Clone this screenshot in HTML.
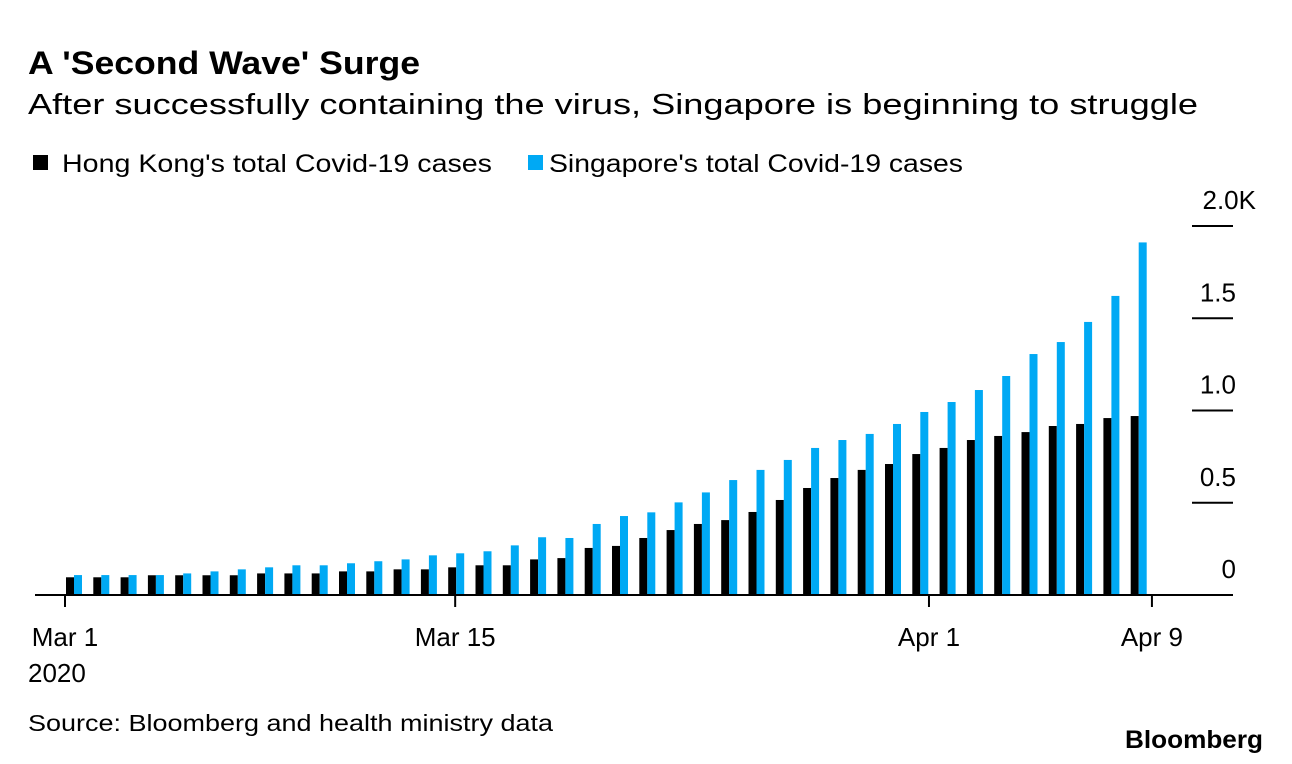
<!DOCTYPE html>
<html><head><meta charset="utf-8"><style>
html,body{margin:0;padding:0;background:#fff;}
svg{display:block;font-family:"Liberation Sans",Arial,sans-serif;}
</style></head><body>
<svg id="chart" width="1292" height="764" viewBox="0 0 1292 764" xmlns="http://www.w3.org/2000/svg">
<rect width="1292" height="764" fill="#fff"/>
<text x="28" y="74" font-size="32" font-weight="bold" textLength="392" lengthAdjust="spacingAndGlyphs">A 'Second Wave' Surge</text>
<text x="28" y="114" font-size="29" textLength="1170" lengthAdjust="spacingAndGlyphs">After successfully containing the virus, Singapore is beginning to struggle</text>
<g>
<rect x="33" y="155" width="15" height="15" fill="#000"/>
<text x="62" y="172" font-size="25" textLength="430" lengthAdjust="spacingAndGlyphs">Hong Kong's total Covid-19 cases</text>
<rect x="528" y="155" width="15" height="15" fill="#00a9f4"/>
<text x="549" y="172" font-size="25" textLength="414" lengthAdjust="spacingAndGlyphs">Singapore's total Covid-19 cases</text>
</g>
<g id="bars"></g>
<g id="yaxis"></g>
<g id="xaxis"></g>
<text x="28" y="731" font-size="23" textLength="525" lengthAdjust="spacingAndGlyphs">Source: Bloomberg and health ministry data</text>
<text x="1263" y="748" font-size="25" font-weight="bold" text-anchor="end" textLength="138" lengthAdjust="spacingAndGlyphs">Bloomberg</text>
</svg>
<script>
const hongKong = [96,96,96,107,107,107,107,117,117,117,128,128,139,139,150,161,161,193,200,255,266,309,352,385,406,450,515,580,634,678,710,764,797,840,862,883,916,927,959,970];
const singapore = [108,108,108,108,117,128,139,150,161,161,172,183,193,215,226,237,269,313,309,385,428,448,502,556,623,678,732,797,840,873,927,992,1046,1111,1187,1306,1371,1480,1621,1911];
const yTicks = [0,500,1000,1500,2000];
const yTickLabels = ["0","0.5","1.0","1.5","2.0K"];
const xTickDays = [0,14,31,39];
const xTickLabels = ["Mar 1","Mar 15","Apr 1","Apr 9"];

const NS = "http://www.w3.org/2000/svg";
const base = 595, pxPer = 184.5/1000;
function y(v){ return base - v*pxPer; }
function xBar(i){ return 66 + i*27.3; }
function xTick(d){ return 65 + d*27.87; }
function mk(tag, attrs, parent){ const e=document.createElementNS(NS,tag); for(const k in attrs) e.setAttribute(k,attrs[k]); parent.appendChild(e); return e; }

const bars = document.getElementById('bars');
hongKong.forEach((v,i)=>{
  const r = mk('rect',{x:xBar(i),y:y(v),width:8,height:base-y(v),fill:'#000'},bars);
  
  
});
singapore.forEach((v,i)=>{
  const r = mk('rect',{x:xBar(i)+8,y:y(v),width:8,height:base-y(v),fill:'#00a9f4'},bars);
  
  
});

const ya = document.getElementById('yaxis');
yTicks.forEach((t,i)=>{
  if(t>0){
    const l = mk('line',{x1:1192,x2:1233,y1:y(t),y2:y(t),stroke:'#000','stroke-width':2},ya);
    
    
  }
  const lab = yTickLabels[i];
  const ax = lab.endsWith('K') ? 1256 : 1236;
  const tx = mk('text',{x:ax,y:y(t)-17,'font-size':26,'text-anchor':'end'},ya);
  tx.textContent = lab;
  
  
});

const xa = document.getElementById('xaxis');
const bl = mk('line',{x1:35,x2:1233,y1:base,y2:base,stroke:'#000','stroke-width':2},xa);


xTickDays.forEach((d,i)=>{
  const l = mk('line',{x1:xTick(d),x2:xTick(d),y1:base,y2:base+12,stroke:'#000','stroke-width':2},xa);
  
  
  const tx = mk('text',{x:xTick(d),y:646,'font-size':26,'text-anchor':'middle'},xa);
  tx.textContent = xTickLabels[i];
  
  
});
const yr = mk('text',{x:28,y:682,'font-size':26},xa);
yr.textContent = '2020';


</script>
</body></html>
